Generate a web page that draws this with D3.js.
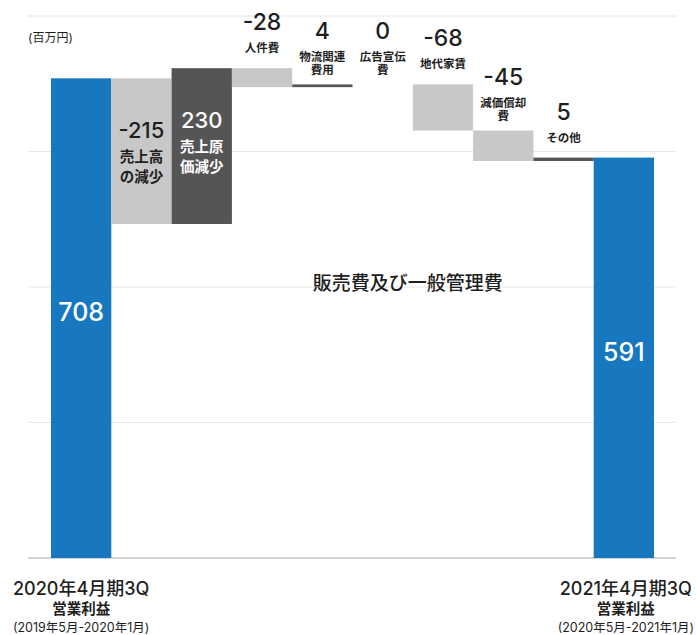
<!DOCTYPE html>
<html>
<head>
<meta charset="utf-8">
<script src="https://d3js.org/d3.v7.min.js"></script>
<style>
 body { margin: 0; background: #fff; }
 text { font-family: "Inter", "Noto Sans CJK JP", sans-serif; fill: #1e1e1e; }
</style>
</head>
<body>
<svg width="696" height="635"></svg>
<script>

// data (百万円)
const categories = ['2020年4月期3Q', '売上高の減少', '売上原価減少', '人件費', '物流関連費用',
                    '広告宣伝費', '地代家賃', '減価償却費', 'その他', '2021年4月期3Q'];
const values = [708, -215, 230, -28, 4, 0, -68, -45, 5, 591];
const isTotal = [true, false, false, false, false, false, false, false, false, true];
const nameLines = [[], ['売上高', 'の減少'], ['売上原', '価減少'], ['人件費'], ['物流関連', '費用'],
                   ['広告宣伝', '費'], ['地代家賃'], ['減価償却', '費'], ['その他'], []];
const gridTicks = [200, 400, 600, 800];
const totalTitles = ['2020年4月期3Q', '2021年4月期3Q'];
const totalSub = '営業利益';
const totalPeriods = ['(2019年5月-2020年1月)', '(2020年5月-2021年1月)'];
const unitLabel = '(百万円)';
const groupLabel = '販売費及び一般管理費';

const svg = d3.select('svg');

const x = d3.scaleBand().domain(categories).range([51, 654]).padding(0);
const y = d3.scaleLinear().domain([0, 800]).range([558, 16]);

// waterfall steps
let run = 0;
const bars = categories.map(function (c, i) {
  let lo, hi;
  if (isTotal[i]) { lo = 0; hi = values[i]; run = values[i]; }
  else { const s = run; run = run + values[i]; lo = Math.min(s, run); hi = Math.max(s, run); }
  return { cat: c, v: values[i], lo: lo, hi: hi, total: isTotal[i], lines: nameLines[i], i: i };
});

function color(d) {
  if (d.total) return '#1777bf';
  return d.v < 0 ? '#c8c8c8' : '#555555';
}

// grid
svg.append('g')
  .selectAll('line')
  .data(gridTicks)
  .enter().append('line')
    .attr('x1', 28).attr('x2', 676)
    .attr('y1', d => y(d)).attr('y2', d => y(d))
    .attr('stroke', '#e6e6e6').attr('stroke-width', 1);

svg.append('line')
  .attr('x1', 28).attr('x2', 676)
  .attr('y1', y(0)).attr('y2', y(0))
  .attr('stroke', '#a8a8a8').attr('stroke-width', 1.2);

svg.append('text')
  .attr('x', 28).attr('y', 37)
  .attr('dominant-baseline', 'central')
  .style('font-size', '12px')
  .text(unitLabel);

// group label
const gx = (x('人件費') + x('その他') + x.bandwidth()) / 2;
svg.append('text')
  .attr('x', gx - 5).attr('y', y(405))
  .attr('text-anchor', 'middle')
  .attr('dominant-baseline', 'central')
  .style('font-size', '19px').style('font-weight', 500)
  .text(groupLabel);

// bars
svg.append('g')
  .selectAll('rect')
  .data(bars)
  .enter().append('rect')
    .attr('x', d => x(d.cat))
    .attr('width', x.bandwidth())
    .attr('y', d => y(d.hi))
    .attr('height', d => y(d.lo) - y(d.hi))
    .attr('fill', color);

const lab = svg.append('g');

bars.forEach(function (d) {
  const cx = x(d.cat) + x.bandwidth() / 2;
  const top = y(d.hi);
  const valText = (d.v < 0 ? '-' : '') + Math.abs(d.v);

  if (d.total) {
    lab.append('text')
      .attr('x', cx).attr('y', (top + y(0)) / 2 - 6)
      .attr('text-anchor', 'middle').attr('dominant-baseline', 'central')
      .style('font-size', '25px').style('font-weight', 500).style('fill', '#fff')
      .text(valText);
    return;
  }

  if (d.i <= 2) {
    // labels inside the first two step bars
    const fill = d.v < 0 ? '#1e1e1e' : '#fff';
    lab.append('text')
      .attr('x', cx).attr('y', top + 52)
      .attr('text-anchor', 'middle').attr('dominant-baseline', 'central')
      .style('font-size', '22px').style('font-weight', 500).style('fill', fill)
      .text(valText);
    d.lines.forEach(function (t, k) {
      lab.append('text')
        .attr('x', cx).attr('y', top + 78 + k * 20)
        .attr('text-anchor', 'middle').attr('dominant-baseline', 'central')
        .style('font-size', '14.5px').style('font-weight', 700).style('fill', fill)
        .text(t);
    });
    return;
  }

  // labels above the remaining steps
  const n = d.lines.length;
  const lastY = top - (n > 1 ? 14 : 20);
  const firstY = lastY - (n - 1) * 13;
  d.lines.forEach(function (t, k) {
    lab.append('text')
      .attr('x', cx).attr('y', firstY + k * 13)
      .attr('text-anchor', 'middle').attr('dominant-baseline', 'central')
      .style('font-size', '11.5px').style('font-weight', 700)
      .text(t);
  });
  lab.append('text')
    .attr('x', cx).attr('y', firstY - 26)
    .attr('text-anchor', 'middle').attr('dominant-baseline', 'central')
    .style('font-size', '23px').style('font-weight', 500)
    .text(valText);
});

// bottom category labels for the two totals
const totals = bars.filter(d => d.total);
totals.forEach(function (d, k) {
  const cx = x(d.cat) + x.bandwidth() / 2 + (k === 1 ? 2 : 0);
  lab.append('text')
    .attr('x', cx).attr('y', 595)
    .attr('text-anchor', 'middle')
    .style('font-size', '18px').style('font-weight', 500)
    .text(totalTitles[k]);
  lab.append('text')
    .attr('x', cx).attr('y', 614)
    .attr('text-anchor', 'middle')
    .style('font-size', '14.5px').style('font-weight', 700)
    .text(totalSub);
  lab.append('text')
    .attr('x', cx).attr('y', 632)
    .attr('text-anchor', 'middle')
    .style('font-size', '12.5px')
    .text(totalPeriods[k]);
});

</script>
</body>
</html>
